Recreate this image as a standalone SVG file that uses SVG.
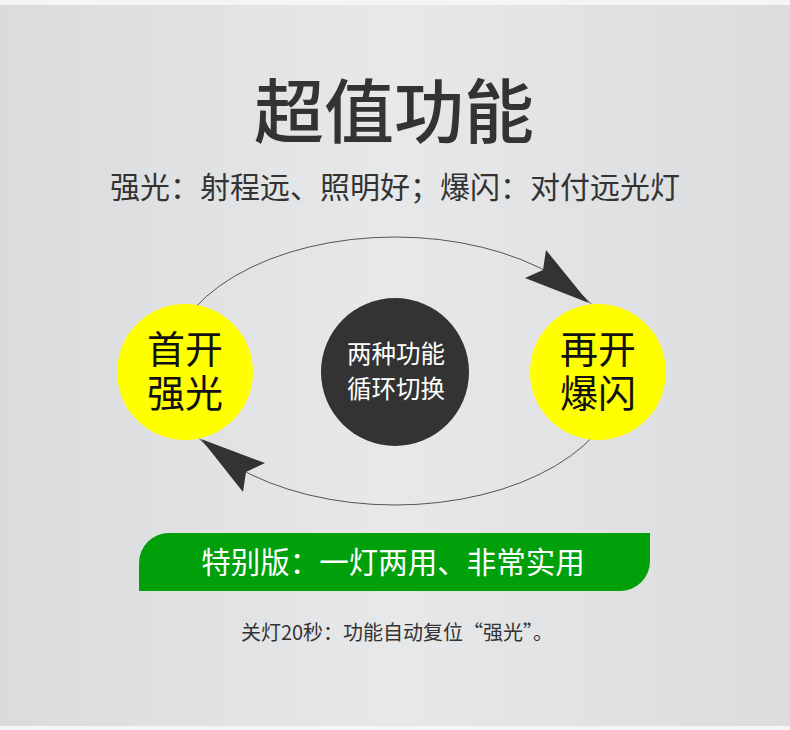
<svg xmlns="http://www.w3.org/2000/svg" width="790" height="730" viewBox="0 0 790 730">
<style>
.t{font-family:"Noto Sans CJK SC","Noto Sans",sans-serif;text-anchor:middle}
.dark{fill:#333}
.big{font-size:38px;fill:#111}
.mid{font-size:24.5px;fill:#fff}
</style>
<defs>
<linearGradient id="bg" x1="0" y1="0" x2="1" y2="0">
<stop offset="0" stop-color="#d9dbdd"/>
<stop offset="0.5" stop-color="#e7e8e9"/>
<stop offset="1" stop-color="#dadcde"/>
</linearGradient>
</defs>
<rect width="790" height="730" fill="#f4f5f7"/>
<rect y="5" width="790" height="721" fill="url(#bg)"/>
<text class="t dark" x="394" y="138" font-size="70" font-weight="500">超值功能</text>
<text class="t dark" x="395" y="198" font-size="30">强光：射程远、照明好；爆闪：对付远光灯</text>
<g id="connectors">
<ellipse cx="395" cy="371" rx="227" ry="134" fill="none" stroke="#555" stroke-width="1"/>
<polygon points="589,303 546,250 543,270 525,278" fill="#333"/>
<polygon points="201,439 265,463 246,472 243,492" fill="#333"/>
</g>
<g id="left">
<circle cx="185" cy="372" r="68" fill="#ffff00"/>
<text class="t big"><tspan x="185" y="363">首开</tspan><tspan x="185" y="407">强光</tspan></text>
</g>
<g id="right">
<circle cx="598" cy="372" r="68" fill="#ffff00"/>
<text class="t big"><tspan x="598" y="363">再开</tspan><tspan x="598" y="407">爆闪</tspan></text>
</g>
<g id="center">
<circle cx="395" cy="372" r="74" fill="#333"/>
<text class="t mid"><tspan x="396" y="363">两种功能</tspan><tspan x="396" y="398">循环切换</tspan></text>
</g>
<g id="banner">
<path d="M169,533 H650 V561 A30,30 0 0 1 620,591 H139 V563 A30,30 0 0 1 169,533 Z" fill="#00a00b"/>
<text class="t" x="393" y="573" font-size="29.5" fill="#fff">特别版：一灯两用、非常实用</text>
</g>
<text class="t dark" x="397" y="640" font-size="20">关灯20秒：功能自动复位“强光”。</text>
</svg>
